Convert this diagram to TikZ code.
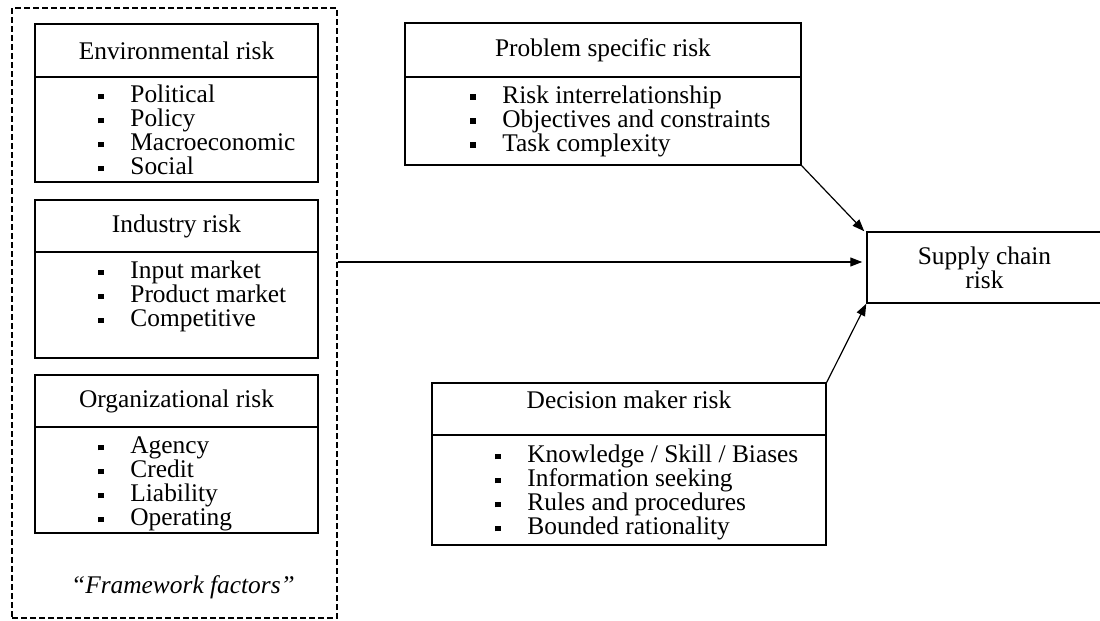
\documentclass[tikz,border=0pt]{standalone}
\usepackage{fontspec}
\setmainfont{Liberation Serif}
\usetikzlibrary{arrows.meta}
\newcommand{\itm}[1]{\makebox[16pt][l]{\rule[1.6pt]{2.7pt}{2.7pt}}#1}

\begin{document}
\begin{tikzpicture}[x=0.5pt,y=-0.5pt,
    font=\fontsize{12.7}{12}\selectfont,
    >={Triangle[length=6pt,width=4.5pt]},
    riskbox/.style={draw, line width=0.75pt, inner sep=0pt},
    risklist/.style={anchor=west, align=left, inner sep=0pt}]
    \useasboundingbox (0,0) rectangle (1100,621);
    % framework factors
    \node[draw, dash pattern=on 3pt off 1.5pt, line width=0.6pt, minimum width=162.5pt, minimum height=305pt] (frame) at (174.5,313) {};
    \node[riskbox, minimum width=141.5pt, minimum height=26.5pt] (envhead) at (176.5,50.5) {Environmental risk};
    \node[riskbox, minimum width=141.5pt, minimum height=52.5pt] (envbody) at (176.5,129.5) {};
    \node[risklist] (envlist) at (98,130) {\itm{Political}\\ \itm{Policy}\\ \itm{Macroeconomic}\\ \itm{Social}};
    \node[riskbox, minimum width=141.5pt, minimum height=26pt] (indhead) at (176.5,226) {Industry risk};
    \node[riskbox, minimum width=141.5pt, minimum height=53pt] (indbody) at (176.5,305) {};
    \node[risklist] (indlist) at (98,296) {\itm{Input market}\\ \itm{Product market}\\ \itm{Competitive}};
    \node[riskbox, minimum width=141.5pt, minimum height=26pt] (orghead) at (176.5,401) {Organizational risk};
    \node[riskbox, minimum width=141.5pt, minimum height=53pt] (orgbody) at (176.5,480) {};
    \node[risklist] (orglist) at (98,484) {\itm{Agency}\\ \itm{Credit}\\ \itm{Liability}\\ \itm{Operating}};
    \node[inner sep=0pt] (factors) at (183,587) {\itshape ``Framework factors''};
    % problem specific
    \node[riskbox, minimum width=198pt, minimum height=27pt] (probhead) at (603,50) {Problem specific risk};
    \node[riskbox, minimum width=198pt, minimum height=44pt] (probbody) at (603,121) {};
    \node[risklist] (problist) at (470,121) {\itm{Risk interrelationship}\\ \itm{Objectives and constraints}\\ \itm{Task complexity}};
    % decision maker
    \node[riskbox, minimum width=197pt, minimum height=26pt, text depth=9.5pt] (dechead) at (629,409) {Decision maker risk};
    \node[riskbox, minimum width=197pt, minimum height=55pt] (decbody) at (629,490) {};
    \node[risklist] (declist) at (495,492.5) {\itm{Knowledge / Skill / Biases}\\ \itm{Information seeking}\\ \itm{Rules and procedures}\\ \itm{Bounded rationality}};
    % supply chain
    \node[riskbox, minimum width=117.5pt, minimum height=35.5pt, align=center] (supply) at (984.5,267.5) {Supply chain\\risk};
    \draw[->, line width=0.6pt] (probbody.south east) -- ([xshift=-1pt]supply.north west);
    \draw[->, line width=0.6pt] ([yshift=2.75pt]frame.east |- supply.west) -- ([xshift=-2pt,yshift=2.75pt]supply.west);
    \draw[->, line width=0.6pt] (dechead.north east) -- (supply.south west);
\end{tikzpicture}
\end{document}
